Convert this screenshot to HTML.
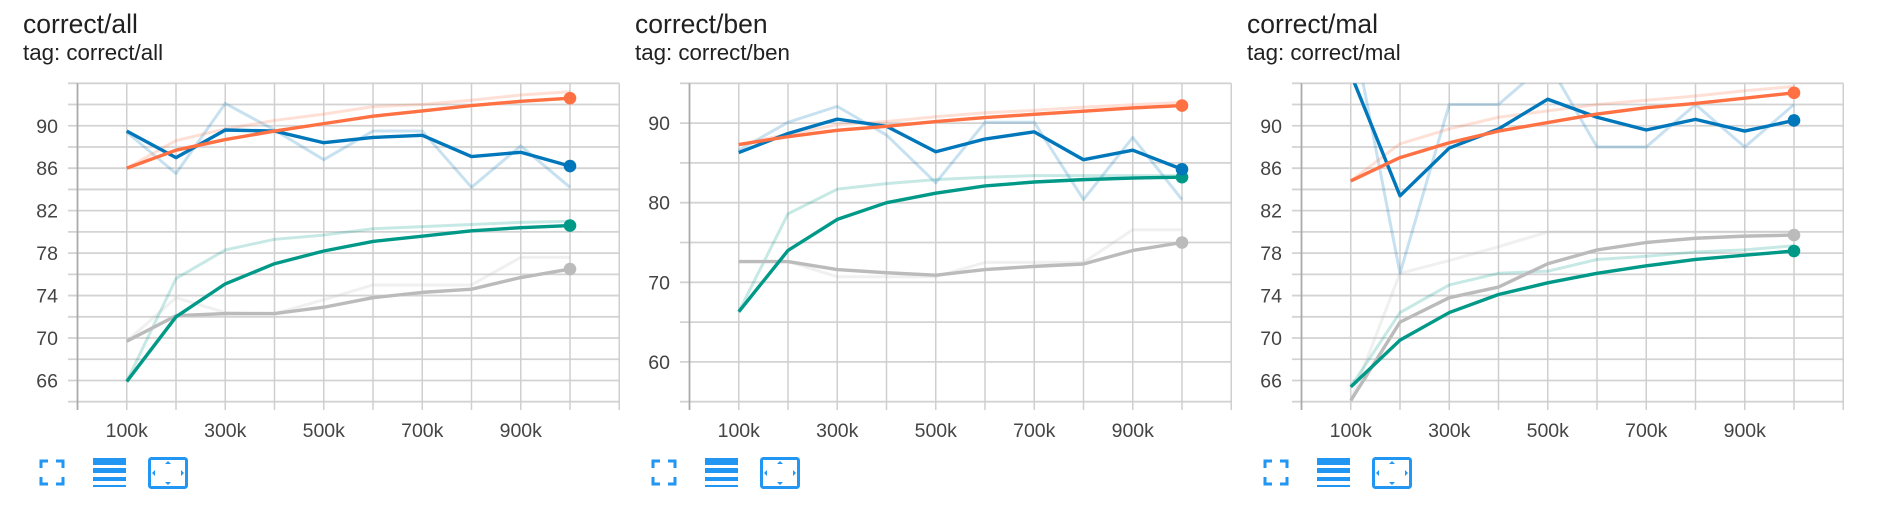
<!DOCTYPE html>
<html><head><meta charset="utf-8"><style>
html,body{margin:0;padding:0;background:#fff;}
svg{display:block;font-family:"Liberation Sans",sans-serif;}
</style></head><body>
<svg id="root" width="1880" height="522" viewBox="0 0 1880 522" xmlns="http://www.w3.org/2000/svg"></svg>
<script>
// ---- data ----
const steps = [100000,200000,300000,400000,500000,600000,700000,800000,900000,1000000];
const xTickLabels = ["100k","300k","500k","700k","900k"];
const xTickValues = [100000,300000,500000,700000,900000];

const allOrangeRaw = [86.0,88.6,89.7,90.5,91.1,91.8,92.0,92.4,92.9,93.2];
const allOrangeSm  = [86.0,87.7,88.7,89.5,90.2,90.9,91.4,91.9,92.3,92.6];
const allBlueRaw   = [89.4,85.5,92.1,89.6,86.8,89.5,89.5,84.2,88.1,84.2];
const allBlueSm    = [89.5,87.0,89.6,89.5,88.4,88.9,89.1,87.1,87.5,86.2];
const allTealRaw   = [65.9,75.6,78.3,79.3,79.7,80.3,80.5,80.7,80.9,81.0];
const allTealSm    = [65.9,72.0,75.1,77.0,78.2,79.1,79.6,80.1,80.4,80.6];
const allGrayRaw   = [69.7,73.8,72.4,72.3,73.6,75.0,75.0,75.0,77.6,77.6];
const allGraySm    = [69.7,72.1,72.3,72.3,72.9,73.8,74.3,74.6,75.7,76.5];
const allYTicks    = [66,70,74,78,82,86,90];

const benOrangeRaw = [87.3,88.6,89.8,90.2,90.8,91.3,91.6,92.0,92.3,92.6];
const benOrangeSm  = [87.3,88.3,89.1,89.6,90.2,90.7,91.1,91.5,91.9,92.2];
const benBlueRaw   = [86.6,90.1,92.1,88.5,82.5,90.1,90.1,80.4,88.2,80.4];
const benBlueSm    = [86.3,88.7,90.5,89.6,86.4,88.0,88.9,85.4,86.6,84.2];
const benTealRaw   = [66.3,78.6,81.7,82.4,82.9,83.2,83.4,83.4,83.4,83.4];
const benTealSm    = [66.3,74.0,77.9,80.0,81.2,82.1,82.6,82.9,83.1,83.2];
const benGrayRaw   = [72.6,72.6,70.7,70.7,70.7,72.5,72.5,72.5,76.6,76.6];
const benGraySm    = [72.6,72.6,71.6,71.2,70.9,71.6,72.0,72.3,74.0,75.0];
const benYTicks    = [60,70,80,90];

const malOrangeRaw = [84.8,88.3,89.7,90.8,91.4,92.0,92.4,92.8,93.3,93.7];
const malOrangeSm  = [84.8,87.0,88.4,89.5,90.3,91.1,91.7,92.1,92.6,93.1];
const malBlueRaw   = [100.0,76.1,92.0,92.0,96.0,88.0,88.0,92.0,88.0,92.0];
const malBlueSm    = [94.9,83.4,87.9,89.7,92.5,90.8,89.6,90.6,89.5,90.5];
const malTealRaw   = [65.4,72.4,75.0,76.1,76.3,77.4,77.7,78.1,78.3,78.7];
const malTealSm    = [65.4,69.8,72.4,74.1,75.2,76.1,76.8,77.4,77.8,78.2];
const malGrayRaw   = [64.1,76.1,77.3,78.6,80.0,80.0,80.0,80.0,80.0,80.0];
const malGraySm    = [64.1,71.5,73.8,74.8,77.0,78.3,79.0,79.4,79.6,79.7];
const malYTicks    = [66,70,74,78,82,86,90];

const NS = "http://www.w3.org/2000/svg";
const root = document.getElementById('root');
function mk(tag, attrs, parent){
  const e = document.createElementNS(NS, tag);
  for (const k in attrs) e.setAttribute(k, attrs[k]);
  (parent||root).appendChild(e);
  return e;
}
const COLORS = {orange:"#ff7043", blue:"#0077bb", teal:"#009988", gray:"#bbbbbb"};

function panel(idx, ox, title, slug, yMin, yMax, yGridStep, yTicks, series){
  const g = mk('g', {});
  
  
  const axisX = ox + 77.5, step = 49.25, gridL = ox + 68, gridR = ox + 619;
  const top = 83.3, bot = 401.7;
  const xs = v => axisX + (v/100000)*step;
  const ys = v => bot - (v - yMin)/(yMax - yMin)*(bot - top);

  const t = mk('text', {x: ox+23, y: 33, 'font-size': 26.5, fill: '#212121'}, g);
  t.textContent = title;
  
  
  const st = mk('text', {x: ox+23, y: 60, 'font-size': 22.3, fill: '#212121'}, g);
  st.textContent = 'tag: ' + title;
  
  

  const grid = mk('g', {}, g);
  
  
  for (let v = yMin; v <= yMax + 1e-9; v += yGridStep){
    mk('line', {x1: gridL, x2: gridR, y1: ys(v), y2: ys(v), stroke: '#d3d3d3', 'stroke-width': 1.8}, grid);
  }
  for (let i = 0; i <= 11; i++){
    const x = xs(i*100000);
    mk('line', {x1: x, x2: x, y1: top, y2: 410, stroke: i===0 ? '#aaaaaa' : '#cfcfcf', 'stroke-width': i===0 ? 1.8 : 1.5}, grid);
  }
  yTicks.forEach(v => {
    const l = mk('text', {x: ox+58, y: ys(v)+7, 'font-size': 19.5, fill: '#444', 'text-anchor': 'end'}, g);
    l.textContent = v;
    
    
  });
  xTickValues.forEach((v, i) => {
    const l = mk('text', {x: xs(v), y: 437, 'font-size': 19.5, fill: '#444', 'text-anchor': 'middle'}, g);
    l.textContent = xTickLabels[i];
    
    
  });

  const cid = 'clip' + idx;
  const cp = mk('clipPath', {id: cid}, g);
  mk('rect', {x: gridL, y: top, width: gridR - gridL, height: bot - top}, cp);
  const plot = mk('g', {'clip-path': 'url(#' + cid + ')'}, g);
  series.forEach(s => {
    const raw = mk('polyline', {points: steps.map((x,i)=>xs(x)+','+ys(s.raw[i])).join(' '), fill: 'none', stroke: COLORS[s.c], 'stroke-opacity': 0.22, 'stroke-width': 3, 'stroke-linejoin': 'round'}, plot);
    
    
  });
  series.forEach(s => {
    const sm = mk('polyline', {points: steps.map((x,i)=>xs(x)+','+ys(s.sm[i])).join(' '), fill: 'none', stroke: COLORS[s.c], 'stroke-width': 3.4, 'stroke-linejoin': 'round'}, plot);
    
    
  });
  series.forEach(s => {
    const n = steps.length - 1;
    const d = mk('circle', {cx: xs(steps[n]), cy: ys(s.sm[n]), r: 6.3, fill: COLORS[s.c]}, g);
    
    
  });

  const blue = '#2196f3';
  const fs = mk('g', {fill: 'none', stroke: blue, 'stroke-width': 3}, g);
  
  
  const a = ox+41, b = ox+63, c = 461, d2 = 484;
  mk('path', {d: `M${a} ${c+7}V${c}H${a+7} M${b-7} ${c}H${b}V${c+7} M${a} ${d2-7}V${d2}H${a+7} M${b-7} ${d2}H${b}V${d2-7}`}, fs);
  const ls = mk('g', {fill: blue}, g);
  
  
  mk('rect', {x: ox+93, y: 458, width: 33, height: 7}, ls);
  mk('rect', {x: ox+93, y: 468, width: 33, height: 5}, ls);
  mk('rect', {x: ox+93, y: 477, width: 33, height: 4}, ls);
  mk('rect', {x: ox+93, y: 485, width: 33, height: 2}, ls);
  const fit = mk('g', {}, g);
  
  
  mk('rect', {x: ox+149.5, y: 458.5, width: 37, height: 29, rx: 2, fill: 'none', stroke: blue, 'stroke-width': 3}, fit);
  const cx = ox+168, cy = 473;
  mk('path', {d: `M${cx-3} ${cy-9}L${cx} ${cy-12}L${cx+3} ${cy-9}Z M${cx-3} ${cy+9}L${cx} ${cy+12}L${cx+3} ${cy+9}Z M${cx-13} ${cy-3}L${cx-16} ${cy}L${cx-13} ${cy+3}Z M${cx+13} ${cy-3}L${cx+16} ${cy}L${cx+13} ${cy+3}Z`, fill: blue}, fit);
}

panel(0, 0, 'correct/all', 'correct-all', 64, 94, 2, allYTicks, [
  {c:'gray', raw: allGrayRaw, sm: allGraySm},
  {c:'teal', raw: allTealRaw, sm: allTealSm},
  {c:'blue', raw: allBlueRaw, sm: allBlueSm},
  {c:'orange', raw: allOrangeRaw, sm: allOrangeSm}]);
panel(1, 612, 'correct/ben', 'correct-ben', 55, 95, 5, benYTicks, [
  {c:'gray', raw: benGrayRaw, sm: benGraySm},
  {c:'teal', raw: benTealRaw, sm: benTealSm},
  {c:'blue', raw: benBlueRaw, sm: benBlueSm},
  {c:'orange', raw: benOrangeRaw, sm: benOrangeSm}]);
panel(2, 1224, 'correct/mal', 'correct-mal', 64, 94, 2, malYTicks, [
  {c:'gray', raw: malGrayRaw, sm: malGraySm},
  {c:'teal', raw: malTealRaw, sm: malTealSm},
  {c:'blue', raw: malBlueRaw, sm: malBlueSm},
  {c:'orange', raw: malOrangeRaw, sm: malOrangeSm}]);
</script>
</body></html>
